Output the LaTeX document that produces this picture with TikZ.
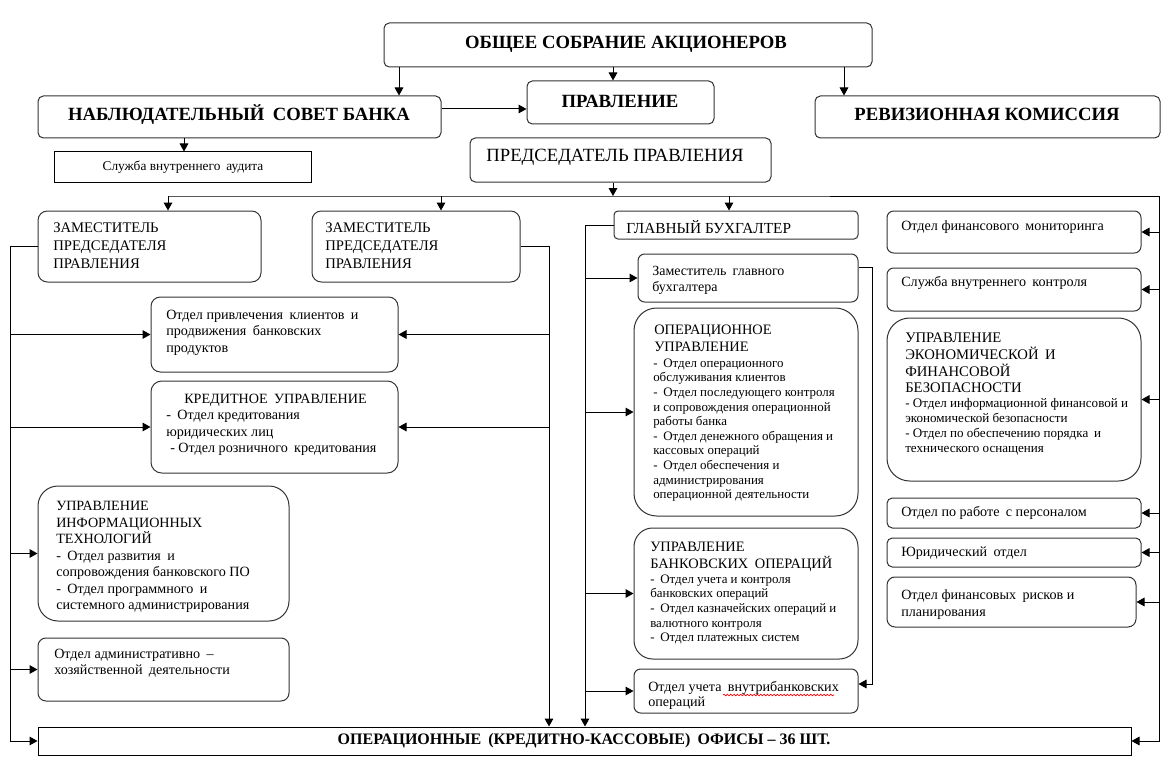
\documentclass[tikz,border=0pt]{standalone}
\usepackage{fontspec}
\setmainfont{Liberation Serif}
\usetikzlibrary{arrows.meta,fit,decorations.pathmorphing}
\newcommand{\fntB}{\fontsize{14}{16}\selectfont\bfseries}
\newcommand{\fntO}{\fontsize{12}{14}\selectfont\bfseries}
\newcommand{\fntP}{\fontsize{14}{16}\selectfont}
\newcommand{\fntZ}{\fontsize{11}{13.5}\selectfont}
\newcommand{\fntN}{\fontsize{10.6}{12.2}\selectfont}
\newcommand{\fntH}{\fontsize{10.8}{12.6}\selectfont}
\newcommand{\fntS}{\fontsize{9.7}{10.95}\selectfont}
\newcommand{\fntT}{\fontsize{9.8}{11.25}\selectfont}
\newcommand{\sps}{\hspace{0.45em}}
\begin{document}
\begin{tikzpicture}[x=0.75pt,y=-0.75pt,
  rb/.style={draw=black!80, rounded corners=#1, inner sep=0pt, line width=0.75pt},
  rb/.default=4pt,
  sb/.style={draw=black, inner sep=0pt, line width=0.75pt},
  tx/.style={inner sep=0pt, align=left, anchor=north west},
  tl/.style={inner sep=0pt, anchor=west},
  ln/.style={line width=0.75pt},
  arr/.style={ln, -{Triangle[length=6pt,width=6.5pt]}}]
\useasboundingbox (0,0) rectangle (1172,774);
% boxes
\node[rb=4pt, fit={(384,23)(872,67)}] (ob) {};
\node[rb=4pt, fit={(38,96)(441,138)}] (nab) {};
\node[rb=4pt, fit={(527,81)(714,124)}] (pr) {};
\node[rb=4pt, fit={(815,96)(1160,138)}] (rev) {};
\node[sb, fit={(54,152)(311,182)}] (aud) {};
\node[rb=4pt, fit={(470,138)(771,182)}] (pred) {};
\node[rb=7pt, fit={(38,211)(261,282)}] (z1) {};
\node[rb=7pt, fit={(312,211)(520,282)}] (z2) {};
\node[rb=7pt, fit={(151,297)(398,372)}] (op) {};
\node[rb=8pt, fit={(151,381)(398,473)}] (kr) {};
\node[rb=15pt, fit={(38,486)(289,621)}] (uit) {};
\node[rb=6pt, fit={(38,638)(289,701)}] (ahd) {};
\node[rb=3pt, fit={(614,211)(858,239)}] (gb) {};
\node[rb=5pt, fit={(638,254)(858,302)}] (zgb) {};
\node[rb=17pt, fit={(634,308)(858,516)}] (ou) {};
\node[rb=14pt, fit={(634,528)(858,659)}] (ubo) {};
\node[rb=5pt, fit={(634,669)(858,713)}] (ovo) {};
\node[rb=5pt, fit={(887,211)(1141,253)}] (fm) {};
\node[rb=5pt, fit={(887,268)(1141,311)}] (vsk) {};
\node[rb=17pt, fit={(887,318)(1141,481)}] (uefb) {};
\node[rb=4pt, fit={(887,498)(1141,528)}] (per) {};
\node[rb=4pt, fit={(887,538)(1141,567)}] (yur) {};
\node[rb=6pt, fit={(887,577)(1136,627)}] (risk) {};
\node[sb, fit={(38,727)(1131,755)}] (of) {};
% texts
\node[font=\fntB, inner sep=0pt] (tob) at (626,44) {ОБЩЕЕ СОБРАНИЕ АКЦИОНЕРОВ};
\node[font=\fntB, inner sep=0pt] (tpr) at (620,101) {ПРАВЛЕНИЕ};
\node[font=\fntB, inner sep=0pt] (tnab) at (239,115) {НАБЛЮДАТЕЛЬНЫЙ\sps СОВЕТ БАНКА};
\node[font=\fntB, inner sep=0pt] (trev) at (987,114) {РЕВИЗИОННАЯ КОМИССИЯ};
\node[font=\fontsize{10}{11}\selectfont, inner sep=0pt] (taud) at (183,167) {Служба внутреннего\sps аудита};
\node[font=\fntP, inner sep=0pt] (tpred) at (615,157) {ПРЕДСЕДАТЕЛЬ ПРАВЛЕНИЯ};
\node[tx, font=\fntZ] (tz1) at (53,223) {ЗАМЕСТИТЕЛЬ\\ПРЕДСЕДАТЕЛЯ\\ПРАВЛЕНИЯ};
\node[tx, font=\fntZ] (tz2) at (325,223) {ЗАМЕСТИТЕЛЬ\\ПРЕДСЕДАТЕЛЯ\\ПРАВЛЕНИЯ};
\node[tx, font=\fntN] (top) at (166,310) {Отдел привлечения\sps клиентов\sps и\\продвижения\sps банковских\\продуктов};
\node[tx, font=\fntN] (tkr) at (166,394) {\hspace*{13.5pt}КРЕДИТНОЕ\sps УПРАВЛЕНИЕ\\-\sps Отдел кредитования\\юридических лиц\\\hspace*{3pt}- Отдел розничного\sps кредитования};
\node[tx, font=\fontsize{10.6}{12.4}\selectfont] (tuit) at (56,501) {УПРАВЛЕНИЕ\\ИНФОРМАЦИОННЫХ\\ТЕХНОЛОГИЙ\\-\sps Отдел развития\sps и\\сопровождения банковского ПО\\-\sps Отдел программного\sps и\\системного администрирования};
\node[tx, font=\fntN] (tahd) at (54,649) {Отдел административно\sps --\\хозяйственной\sps деятельности};
\node[tl, font=\fontsize{11.5}{13}\selectfont] (tgb) at (626,227) {ГЛАВНЫЙ БУХГАЛТЕР};
\node[tx, font=\fontsize{10.5}{12}\selectfont] (tzgb) at (652,266) {Заместитель\sps главного\\бухгалтера};
\node[tx, font=\fntH] (tou1) at (654,325) {ОПЕРАЦИОННОЕ\\УПРАВЛЕНИЕ};
\node[tx, font=\fntS] (tou2) at (653,358.5) {-\sps Отдел операционного\\обслуживания клиентов\\-\sps Отдел последующего контроля\\и сопровождения операционной\\работы банка\\-\sps Отдел денежного обращения и\\кассовых операций\\-\sps Отдел обеспечения и\\администрирования\\операционной деятельности};
\node[tx, font=\fntH] (tubo1) at (650,542) {УПРАВЛЕНИЕ\\БАНКОВСКИХ\sps ОПЕРАЦИЙ};
\node[tx, font=\fntS] (tubo2) at (650,574.5) {-\sps Отдел учета и контроля\\банковских операций\\-\sps Отдел казначейских операций и\\валютного контроля\\-\sps Отдел платежных систем};
\node[tx, font=\fontsize{10.6}{11.5}\selectfont] (tovo) at (648,681) {Отдел учета\sps внутрибанковских\\операций};
\draw[red, line width=0.5pt, decorate, decoration={snake, amplitude=0.6pt, segment length=2.5pt}] (tovo.north west) ++(75,14) -- ++(111,0);
\node[tl, font=\fntN] (tfm) at (901,227) {Отдел финансового\sps мониторинга};
\node[tl, font=\fntN] (tvsk) at (901,283) {Служба внутреннего\sps контроля};
\node[tx, font=\fontsize{11}{12.5}\selectfont] (tuefb1) at (905,333) {УПРАВЛЕНИЕ\\ЭКОНОМИЧЕСКОЙ\sps И\\ФИНАНСОВОЙ\\БЕЗОПАСНОСТИ};
\node[tx, font=\fntT] (tuefb2) at (905,398.5) {- Отдел информационной финансовой и\\экономической безопасности\\- Отдел по обеспечению порядка\sps и\\технического оснащения};
\node[tl, font=\fntN] (tper) at (901,513) {Отдел по работе\sps с персоналом};
\node[tl, font=\fntN] (tyur) at (901,553) {Юридический\sps отдел};
\node[tx, font=\fontsize{10.6}{12.7}\selectfont] (trisk) at (901,589) {Отдел финансовых\sps рисков и\\планирования};
\node[font=\fntO, inner sep=0pt] (tof) at (584,741) {ОПЕРАЦИОННЫЕ\sps (КРЕДИТНО-КАССОВЫЕ)\sps ОФИСЫ – 36 ШТ.};
% helper coordinates
\coordinate (xA) at (399,0);
\coordinate (xP) at (613,0);
\coordinate (xRv) at (844,0);
\coordinate (xAu) at (184,0);
\coordinate (yNP) at (0,109);
\coordinate (bL) at (168,196);
\coordinate (bZ) at (441,196);
\coordinate (bP) at (613,196);
\coordinate (bX) at (830,196);
\coordinate (bG) at (729,196);
\coordinate (bR) at (1159,196);
\coordinate (xL) at (10,0);
\coordinate (xZ) at (549,0);
\coordinate (xG) at (585,0);
\coordinate (xGR) at (872,0);
\coordinate (yZ1) at (0,267);
\coordinate (yZ2) at (0,684);
% connectors
\draw[arr] (xA |- ob.south) -- (xA |- nab.north);
\draw[arr] (xP |- ob.south) -- (xP |- pr.north);
\draw[arr] (xRv |- ob.south) -- (xRv |- rev.north);
\draw[arr] (nab.east |- yNP) -- (pr.west |- yNP);
\draw[arr] (xAu |- nab.south) -- (xAu |- aud.north);
\draw[arr] (xP |- pred.south) -- (bP);
\draw[ln, black!65] (bL) -- (bX);
\draw[ln] (bX) -- (bR);
\draw[arr] (bL) -- (bL |- z1.north);
\draw[arr] (bZ) -- (bZ |- z2.north);
\draw[arr] (bG) -- (bG |- gb.north);
\draw[arr] (bR) -- (bR |- of.east) -- (of.east);
\foreach \n in {fm,vsk,uefb,per,yur,risk} \draw[arr] (bR |- \n.east) -- (\n.east);
\draw[arr] (z1.west) -- (xL |- z1.west) -- (xL |- of.west) -- (of.west);
\foreach \n in {op,kr,uit,ahd} \draw[arr] (xL |- \n.west) -- (\n.west);
\draw[arr] (z2.east) -- (xZ |- z2.east) -- (xZ |- of.north);
\foreach \n in {op,kr} \draw[arr] (xZ |- \n.east) -- (\n.east);
\draw[arr] (gb.west) -- (xG |- gb.west) -- (xG |- of.north);
\foreach \n in {zgb,ou,ubo,ovo} \draw[arr] (xG |- \n.west) -- (\n.west);
\draw[arr] (zgb.east |- yZ1) -- (xGR |- yZ1) -- (xGR |- yZ2) -- (ovo.east |- yZ2);
\end{tikzpicture}
\end{document}
